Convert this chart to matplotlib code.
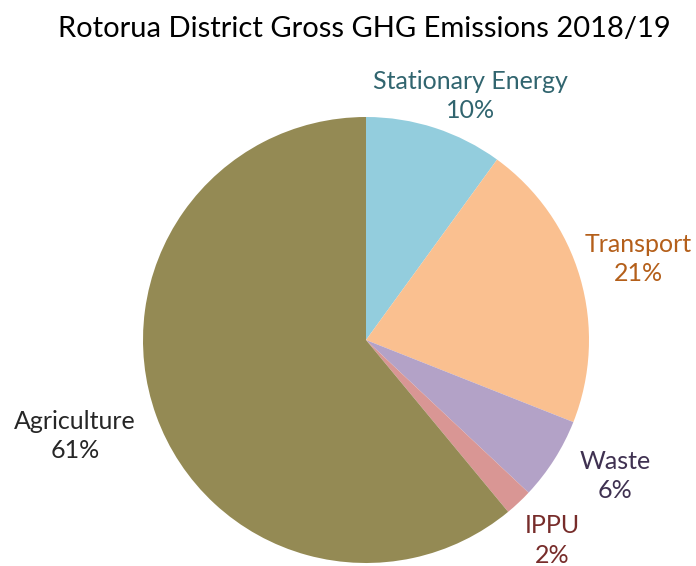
import matplotlib.pyplot as plt

categories = ['Stationary Energy', 'Transport', 'Waste', 'IPPU', 'Agriculture']
shares = [10, 21, 6, 2, 61]
colors = ['#93CDDD', '#FAC090', '#B3A2C7', '#D99694', '#948A54']
label_colors = ['#31656F', '#B45F1A', '#3F3151', '#772C2A', '#262626']
# label anchor points, in pie radius units
label_pos = [(0.47, 1.094), (1.22, 0.363), (1.117, -0.61), (0.834, -0.9), (-1.305, -0.43)]

plt.rcParams['font.family'] = ['Lato', 'DejaVu Sans']

fig = plt.figure(figsize=(6.96, 5.66), dpi=100)
r = 223
cx, cy = 366, 340
ax = fig.add_axes([(cx - r) / 696, (566 - cy - r) / 566, 2 * r / 696, 2 * r / 566])
ax.pie(shares, colors=colors, startangle=90, counterclock=False, radius=1,
       wedgeprops=dict(linewidth=0))
ax.set_xlim(-1, 1)
ax.set_ylim(-1, 1)
ax.set_aspect('equal')
ax.axis('off')

for name, val, c, (x, y) in zip(categories, shares, label_colors, label_pos):
    ax.text(x, y, f'{name}\n{val}%', ha='center', va='center', color=c,
            fontsize=18, linespacing=1.35, clip_on=False)

fig.text(0.523, 1 - 29 / 566, 'Rotorua District Gross GHG Emissions 2018/19',
         ha='center', va='center', fontsize=21, color='black')

plt.savefig('out.png', dpi=100)
